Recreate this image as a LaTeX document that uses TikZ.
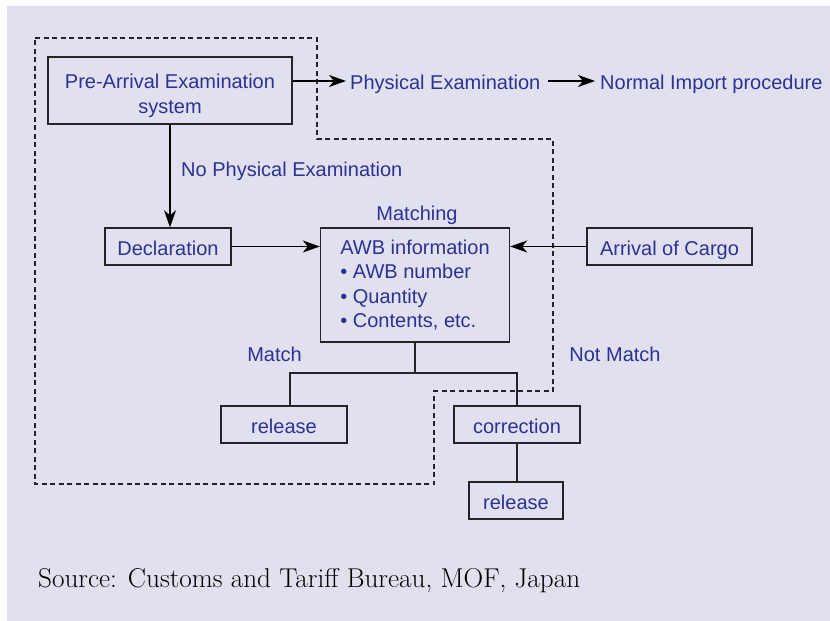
\documentclass[tikz,border=0pt]{standalone}
\usepackage{fontspec}
\newfontfamily\diagfont{Liberation Sans}
\usetikzlibrary{arrows.meta}
\definecolor{bgc}{RGB}{224,224,238}
\definecolor{txtc}{RGB}{44,50,148}
\definecolor{linec}{RGB}{35,35,40}
\newcommand{\dfont}{\diagfont\fontsize{20}{24.4}\selectfont}
\tikzset{
  box/.style={draw=linec, line width=1.4pt, font=\dfont, text=txtc, inner sep=0pt, align=center},
  onebox/.style={box, text height=17pt, text depth=0pt},
  lbl/.style={font=\dfont, text=txtc, inner sep=0pt, text height=16pt, text depth=0pt},
  arr/.style={draw=black, line width=1.4pt, -{Stealth[length=17pt,width=12pt,inset=5pt]}},
  conn/.style={draw=linec, line width=1.4pt},
  dashline/.style={draw=linec, line width=1.2pt, dash pattern=on 5pt off 3.5pt}
}
\begin{document}
\begin{tikzpicture}[x=1pt,y=-1pt]
\useasboundingbox (0,0) rectangle (830,621);
\fill[white] (0,0) rectangle (830,621);
\fill[bgc] (7,6) rectangle (830,621);

% dashed region
\draw[dashline] (35,38) -- (317,38) -- (317,139) -- (553,139) -- (553,391) -- (434,391) -- (434,484) -- (35,484) -- cycle;

% boxes
\node[box, minimum width=244pt, minimum height=67pt] (pre) at (170,90.5) {};
\node[box, draw=none] (pret) at (170,96) {Pre-Arrival Examination\\system};
\node[onebox, minimum width=126pt, minimum height=37pt] (decl) at (168,246.5) {Declaration};
\node[box, align=left, minimum width=189pt, minimum height=114pt] (awb) at (415,285)
  {AWB information\\\textbullet\ AWB number\\\textbullet\ Quantity\\\textbullet\ Contents, etc.};
\node[onebox, minimum width=165pt, minimum height=37pt] (cargo) at (669.5,246.5) {Arrival of Cargo};
\node[onebox, minimum width=126pt, minimum height=37pt] (rel1) at (284,424.5) {release};
\node[onebox, minimum width=126pt, minimum height=37pt] (corr) at (517,424.5) {correction};
\node[onebox, minimum width=94pt, minimum height=37pt] (rel2) at (516,500.5) {release};

% labels
\node[lbl, anchor=base west] (pe) at (350,89) {Physical Examination};
\node[lbl, anchor=base west] (nip) at (600,89) {Normal Import procedure};
\node[lbl, anchor=base west] (npe) at (181,176.7) {No Physical Examination};
\node[lbl, anchor=base] (matching) at (417,220.7) {Matching};
\node[lbl, anchor=base] (match) at (274.5,361.7) {Match};
\node[lbl, anchor=base] (notmatch) at (615,361.7) {Not Match};

% connectors
\draw[arr, shorten >=4pt] (pre.east |- pe.west) -- (pe.west);
\draw[arr, shorten <=8pt, shorten >=5pt] (pe.east) -- (nip.west);
\draw[arr] (pre.south) -- (pre.south |- decl.north);
\draw[arr] (decl.east) -- (decl.east -| awb.west);
\draw[arr] (cargo.west) -- (cargo.west -| awb.east);

\coordinate (jl) at (290,373);
\coordinate (jr) at (517,373);
\draw[conn] (awb.south) -- (awb.south |- jl);
\draw[conn] (rel1.north -| jl) -- (jl) -- (jr) -- (corr.north);
\draw[conn] (corr.south) -- (corr.south |- rel2.north);

% source
\node[anchor=base west, inner sep=0pt, font=\fontsize{27.2}{32}\selectfont] (src) at (38,587) {Source: Customs and Tariff Bureau, MOF, Japan};
\end{tikzpicture}
\end{document}
